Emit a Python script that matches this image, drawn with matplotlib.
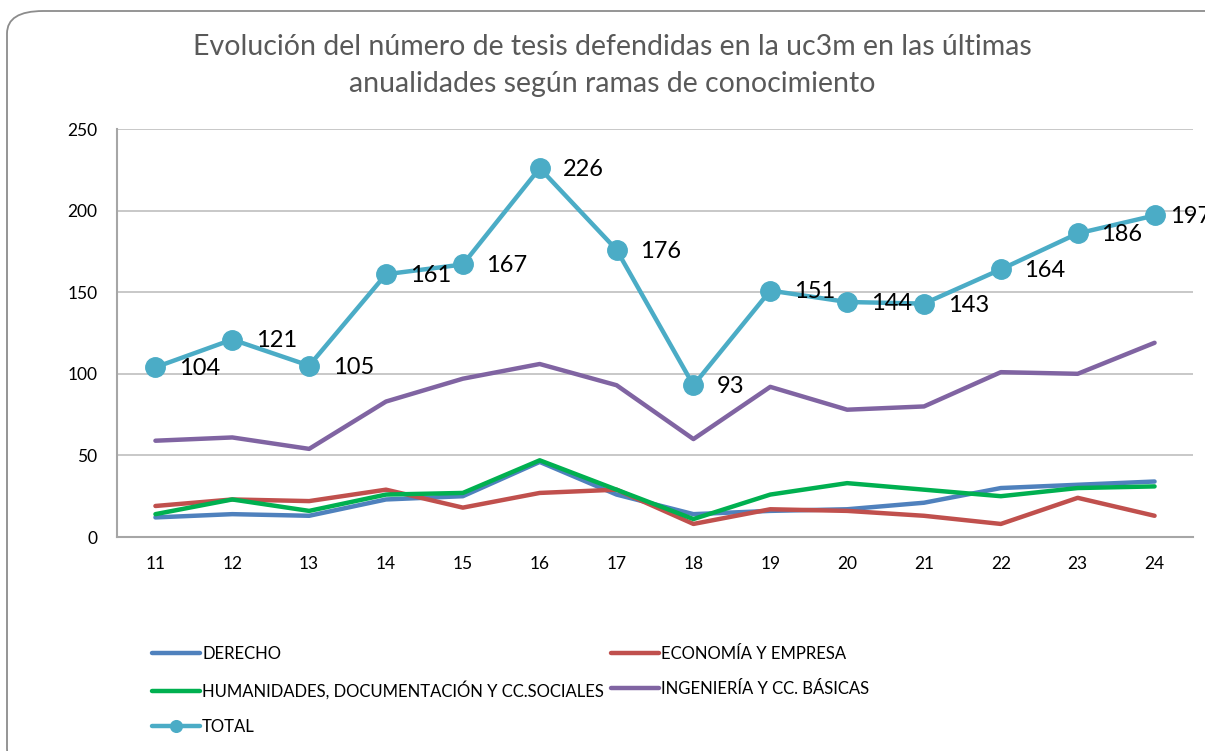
import matplotlib
matplotlib.use('Agg')
import matplotlib.pyplot as plt
from matplotlib.patches import FancyBboxPatch
import numpy as np

plt.rcParams['font.family'] = ['Lato', 'DejaVu Sans']

years = ['11', '12', '13', '14', '15', '16', '17', '18', '19', '20', '21', '22', '23', '24']
derecho = [12, 14, 13, 23, 25, 46, 26, 14, 16, 17, 21, 30, 32, 34]
economia = [19, 23, 22, 29, 18, 27, 29, 8, 17, 16, 13, 8, 24, 13]
humanidades = [14, 23, 16, 26, 27, 47, 29, 11, 26, 33, 29, 25, 30, 31]
ingenieria = [59, 61, 54, 83, 97, 106, 93, 60, 92, 78, 80, 101, 100, 119]
total = [104, 121, 105, 161, 167, 226, 176, 93, 151, 144, 143, 164, 186, 197]
title_lines = ['Evolución del número de tesis defendidas en la uc3m en las últimas',
               'anualidades según ramas de conocimiento']

fig = plt.figure(figsize=(12.05, 7.51), dpi=100)
ax = fig.add_axes([117 / 1205, 1 - 537 / 751, 1076 / 1205, 408 / 751])

# rounded chart border
border = FancyBboxPatch((7 / 1205, -20 / 751), 1260 / 1205, 760 / 751,
                        boxstyle='round,pad=0,rounding_size=0.03',
                        transform=fig.transFigure, fill=False,
                        edgecolor='#8c8c8c', linewidth=1.3, zorder=0)
fig.patches.append(border)

x = np.arange(len(years))
lw = 3.2
h_d, = ax.plot(x, derecho, color='#4F81BD', lw=lw, label='DERECHO', solid_capstyle='round')
h_e, = ax.plot(x, economia, color='#C0504D', lw=lw, label='ECONOMÍA Y EMPRESA', solid_capstyle='round')
h_h, = ax.plot(x, humanidades, color='#00B050', lw=lw, label='HUMANIDADES, DOCUMENTACIÓN Y CC.SOCIALES', solid_capstyle='round')
h_i, = ax.plot(x, ingenieria, color='#8064A2', lw=lw, label='INGENIERÍA Y CC. BÁSICAS', solid_capstyle='round')
h_t, = ax.plot(x, total, color='#4BACC6', lw=lw, marker='o', markersize=14,
               label='TOTAL', solid_capstyle='round', zorder=5)

for i, (xi, v) in enumerate(zip(x, total)):
    dx = 17 if i < len(total) - 1 else 11
    ax.annotate(str(v), (xi, v), xytext=(dx, -1), textcoords='offset points',
                ha='left', va='center', fontsize=17, color='black',
                annotation_clip=False, zorder=6)

ax.set_xlim(-0.5, len(years) - 0.5)
ax.set_ylim(0, 250)
ax.set_yticks([0, 50, 100, 150, 200, 250])
ax.set_xticks(x)
ax.set_xticklabels(years)
ax.tick_params(axis='both', length=0, labelsize=12.5, colors='black')
ax.tick_params(axis='y', pad=14)
ax.tick_params(axis='x', pad=14)
ax.grid(axis='y', color='#bfbfbf', lw=1.2)
ax.set_axisbelow(True)
for s in ['top', 'right']:
    ax.spines[s].set_visible(False)
for s in ['left', 'bottom']:
    ax.spines[s].set_color('#a6a6a6')
    ax.spines[s].set_linewidth(1.5)

for line, ypix in zip(title_lines, [47, 84]):
    fig.text(612 / 1205, 1 - ypix / 751, line, ha='center', va='center',
             fontsize=20.5, color='#595959')

fig.legend([h_d, h_h, h_t, h_e, h_i],
           [h_d.get_label(), h_h.get_label(), h_t.get_label(), h_e.get_label(), h_i.get_label()],
           ncol=2, loc='upper left', bbox_to_anchor=(152 / 1205, 1 - 646 / 751),
           frameon=False, fontsize=12, handlelength=2.9, handletextpad=0.1,
           columnspacing=0.4, labelspacing=1.15, borderaxespad=0, borderpad=0,
           markerscale=0.6)

fig.savefig('out.png', dpi=100)
